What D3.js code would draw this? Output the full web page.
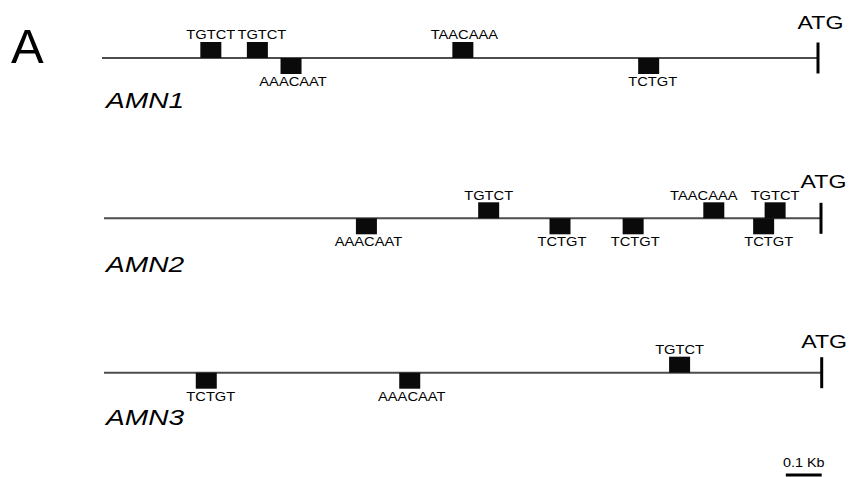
<!DOCTYPE html>
<html>
<head>
<meta charset="utf-8">
<script src="https://cdn.jsdelivr.net/npm/d3@7"></script>
<style>
  html, body { margin: 0; padding: 0; background: #fff; }
  svg { display: block; }
  text { font-family: "Liberation Sans", Arial, Helvetica, sans-serif; fill: #000; }
</style>
</head>
<body>
<svg id="chart" width="849" height="477"></svg>
<script>
// Promoter regions upstream of the ATG (bp, 0 = ATG)
const genes = ["AMN1", "AMN2", "AMN3"];
const promoterLength = 2000;
const scaleBarBp = 100;

// Motif sites: position of site centre (bp relative to ATG), strand (+ above, - below)
const amn1Sites = [
  { motif: "TGTCT",   pos: -1696, strand: "+" },
  { motif: "TGTCT",   pos: -1566, strand: "+" },
  { motif: "AAACAAT", pos: -1472, strand: "-" },
  { motif: "TAACAAA", pos: -992,  strand: "+" },
  { motif: "TCTGT",   pos: -473,  strand: "-" }
];
const amn2Sites = [
  { motif: "AAACAAT", pos: -1268, strand: "-" },
  { motif: "TGTCT",   pos: -927,  strand: "+" },
  { motif: "TCTGT",   pos: -728,  strand: "-" },
  { motif: "TCTGT",   pos: -524,  strand: "-" },
  { motif: "TAACAAA", pos: -299,  strand: "+" },
  { motif: "TCTGT",   pos: -160,  strand: "-" },
  { motif: "TGTCT",   pos: -128,  strand: "+" }
];
const amn3Sites = [
  { motif: "TCTGT",   pos: -1715, strand: "-" },
  { motif: "AAACAAT", pos: -1148, strand: "-" },
  { motif: "TGTCT",   pos: -396,  strand: "+" }
];
const sitesByGene = [amn1Sites, amn2Sites, amn3Sites];

// Layout of each track
const rows = [
  { y: 58,    x0: 102, x1: 818,   labelY: 107.5, atgY: 28.5 },
  { y: 218.3, x0: 104, x1: 821,   labelY: 271.5, atgY: 187.5 },
  { y: 372.7, x0: 104, x1: 821.7, labelY: 425,   atgY: 347.5 }
];
const boxW = 21, boxH = 16;
// small horizontal label shifts (px) to keep crowded labels apart, keyed "row:site"
const labelShift = { "0:1": 4.5, "0:3": 1.5, "0:4": 2, "1:4": -10, "1:5": 3, "2:0": 2.5 };
const lowerLabelShift = 2;

const svg = d3.select("#chart");
svg.append("rect").attr("width", 849).attr("height", 477).attr("fill", "#fff");

// Panel letter
svg.append("text")
  .attr("x", 11).attr("y", 62.7)
  .attr("font-size", 49)
  .text("A");

function stretchedText(g, x, y, str, size, sx, opts = {}) {
  return g.append("text")
    .attr("transform", `translate(${x},${y}) scale(${sx},1)`)
    .attr("text-anchor", opts.anchor || "middle")
    .attr("font-size", size)
    .attr("font-style", opts.italic ? "italic" : null)
    .text(str);
}

genes.forEach((gene, i) => {
  const r = rows[i];
  const x = d3.scaleLinear().domain([-promoterLength, 0]).range([r.x0, r.x1]);
  const g = svg.append("g");

  // promoter line
  g.append("line")
    .attr("x1", x(-promoterLength)).attr("x2", x(0))
    .attr("y1", r.y).attr("y2", r.y)
    .attr("stroke", "#4d4d4d").attr("stroke-width", 2);

  // ATG tick
  g.append("line")
    .attr("x1", x(0)).attr("x2", x(0))
    .attr("y1", r.y - 15.5).attr("y2", r.y + 15.5)
    .attr("stroke", "#000").attr("stroke-width", 3);

  stretchedText(g, x(0) + 2.5, r.atgY, "ATG", 18.5, 1.25);

  // motif boxes and labels
  const sites = sitesByGene[i];
  g.selectAll("rect.site").data(sites).join("rect")
    .attr("class", "site")
    .attr("x", d => x(d.pos) - boxW / 2)
    .attr("y", d => d.strand === "+" ? r.y - boxH : r.y)
    .attr("width", boxW).attr("height", boxH)
    .attr("fill", "#0a0a0a");

  sites.forEach((d, j) => {
    const above = d.strand === "+";
    const ly = above ? r.y - 18.8 : r.y + 28;
    const dx = (labelShift[i + ":" + j] || 0) + (above ? 0 : lowerLabelShift);
    stretchedText(g, x(d.pos) + dx, ly, d.motif, 13, 1.13);
  });

  // gene name
  stretchedText(g, 106, r.labelY, gene, 22.5, 1.25, { anchor: "start", italic: true });
});

// Scale bar
const sbScale = d3.scaleLinear().domain([-promoterLength, 0]).range([rows[2].x0, rows[2].x1]);
const sbLen = sbScale(scaleBarBp) - sbScale(0);
const sbRight = 821.7;
svg.append("line")
  .attr("x1", sbRight - sbLen).attr("x2", sbRight)
  .attr("y1", 475).attr("y2", 475)
  .attr("stroke", "#000").attr("stroke-width", 3.2);
stretchedText(svg, sbRight - sbLen / 2, 467.3, (scaleBarBp / 1000) + " Kb", 12, 1.2);
</script>
</body>
</html>
